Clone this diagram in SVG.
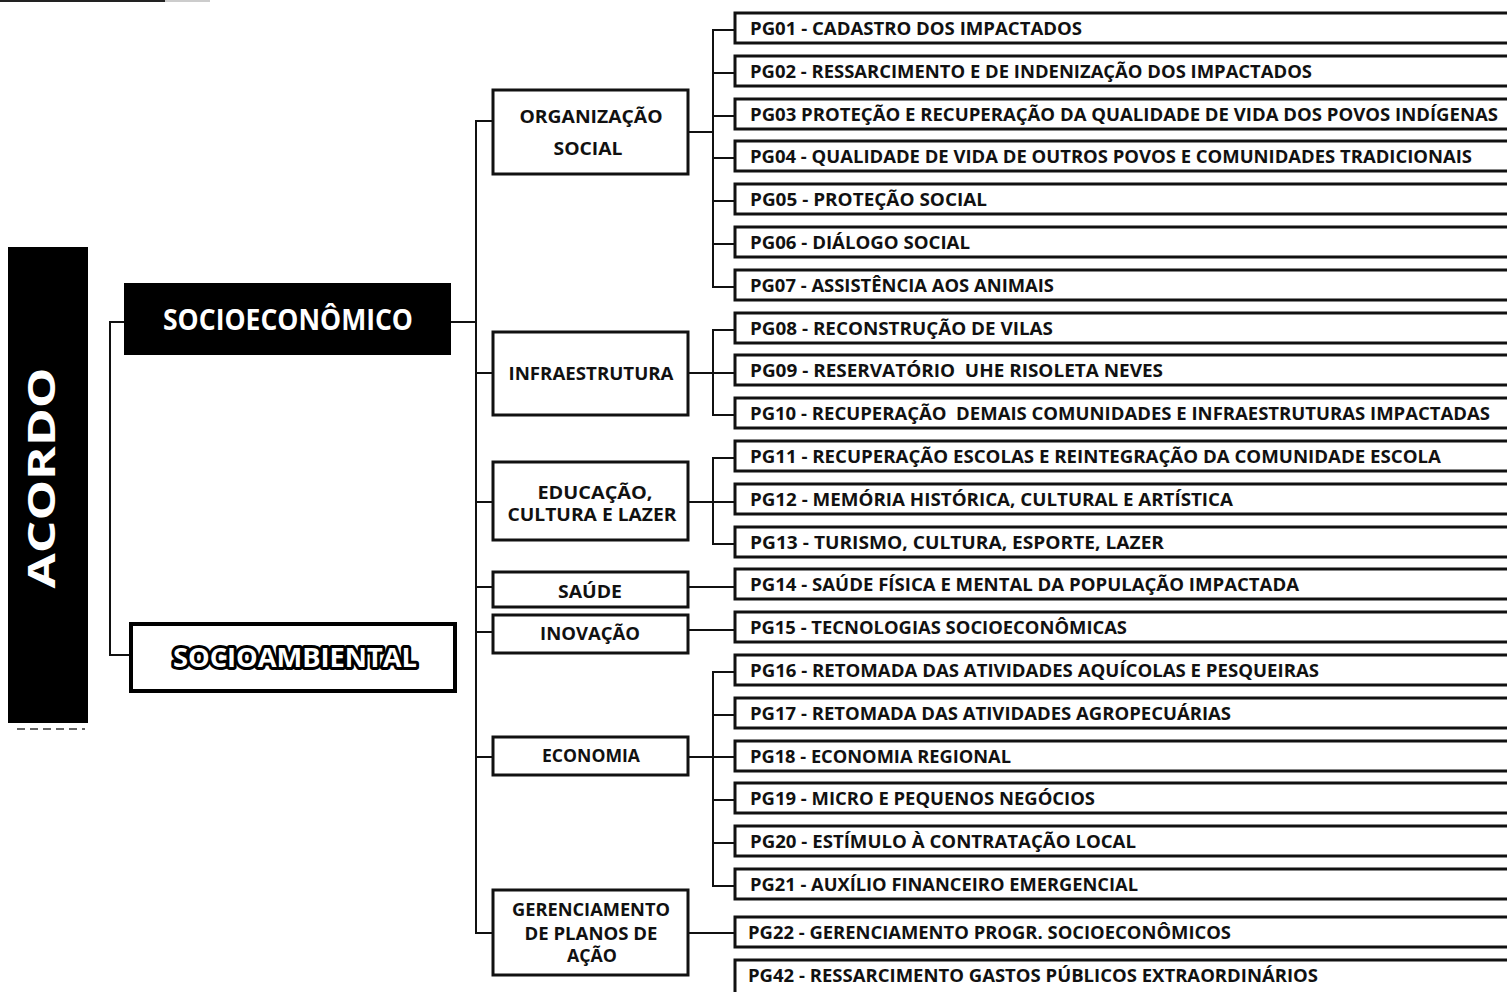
<svg xmlns="http://www.w3.org/2000/svg" width="1507" height="992" viewBox="0 0 1507 992">
<style>
  .t{font-family:"Open Sans","Liberation Sans",sans-serif;font-weight:700;fill:#111;}
  .pg{font-size:18px;}
  .mid{font-size:17.5px;text-anchor:middle;}
  .box{fill:#fff;stroke:#111;stroke-width:3;}
  .pgbox{fill:#fff;stroke:#111;stroke-width:3;}
  .conn{fill:none;stroke:#111;stroke-width:2;}
</style>
<rect x="0" y="0" width="1507" height="992" fill="#fff"/>
<line x1="0" y1="1" x2="165" y2="1" stroke="#222" stroke-width="2"/>
<line x1="165" y1="1" x2="210" y2="1" stroke="#bbb" stroke-width="1.5"/>
<line x1="17" y1="729" x2="85" y2="729" stroke="#333" stroke-width="1.5" stroke-dasharray="8,5"/>

<g id="connectors">
  <path class="conn" d="M124,322 H110 V655 H131"/>
  <path class="conn" d="M451,322 H476"/>
  <path class="conn" d="M493,121 H476 V933 H493 M476,373 H493 M476,502 H493 M476,587 H493 M476,632 H493 M476,757 H493"/>
  <path class="conn" d="M688,132 H713 M735,30 H713 V287 H735 M713,73 H735 M713,116 H735 M713,158 H735 M713,201 H735 M713,244 H735"/>
  <path class="conn" d="M688,373 H735 M735,330 H713 V415 H735"/>
  <path class="conn" d="M688,502 H735 M735,458 H713 V544 H735"/>
  <path class="conn" d="M688,587 H735"/>
  <path class="conn" d="M688,630 H735"/>
  <path class="conn" d="M688,757 H735 M735,672 H713 V886 H735 M713,715 H735 M713,800 H735 M713,843 H735"/>
  <path class="conn" d="M688,933 H735"/>
</g>

<g id="acordo">
  <rect x="8" y="247" width="80" height="476" fill="#000"/>
  <text class="t" transform="translate(55,478) rotate(-90)" text-anchor="middle" font-size="38" fill="#fff" style="fill:#fff" textLength="221" lengthAdjust="spacingAndGlyphs">ACORDO</text>
</g>

<g id="socioeconomico">
  <rect x="124" y="283" width="327" height="72" fill="#000"/>
  <text class="t" x="288" y="330" text-anchor="middle" font-size="28" style="fill:#fff" textLength="250" lengthAdjust="spacingAndGlyphs">SOCIOECONÔMICO</text>
</g>

<g id="socioambiental">
  <rect x="131" y="624" width="324" height="67" fill="#fff" stroke="#000" stroke-width="4"/>
  <text class="t" x="295" y="667" text-anchor="middle" font-size="27" style="fill:#fff;stroke:#000;stroke-width:6;stroke-linejoin:round;paint-order:stroke" textLength="244" lengthAdjust="spacingAndGlyphs">SOCIOAMBIENTAL</text>
</g>

<g id="organizacao-social">
  <rect class="box" x="493" y="90" width="195" height="84"/>
  <text class="t mid" x="591" y="123" textLength="143" lengthAdjust="spacingAndGlyphs">ORGANIZAÇÃO</text>
  <text class="t mid" x="588" y="155" textLength="69" lengthAdjust="spacingAndGlyphs">SOCIAL</text>
</g>
<g id="infraestrutura">
  <rect class="box" x="493" y="332" width="195" height="83"/>
  <text class="t mid" x="591" y="380" textLength="165" lengthAdjust="spacingAndGlyphs">INFRAESTRUTURA</text>
</g>
<g id="educacao">
  <rect class="box" x="493" y="462" width="195" height="78"/>
  <text class="t mid" x="595" y="499" textLength="115" lengthAdjust="spacingAndGlyphs">EDUCAÇÃO,</text>
  <text class="t mid" x="592" y="521" textLength="169" lengthAdjust="spacingAndGlyphs">CULTURA E LAZER</text>
</g>
<g id="saude">
  <rect class="box" x="493" y="572" width="195" height="35"/>
  <text class="t mid" x="590" y="598" textLength="64" lengthAdjust="spacingAndGlyphs">SAÚDE</text>
</g>
<g id="inovacao">
  <rect class="box" x="493" y="615" width="195" height="38"/>
  <text class="t mid" x="590" y="640" textLength="100" lengthAdjust="spacingAndGlyphs">INOVAÇÃO</text>
</g>
<g id="economia">
  <rect class="box" x="493" y="737" width="195" height="38"/>
  <text class="t mid" x="591" y="762" textLength="98" lengthAdjust="spacingAndGlyphs">ECONOMIA</text>
</g>
<g id="gerenciamento">
  <rect class="box" x="493" y="890" width="195" height="85"/>
  <text class="t mid" x="591" y="916" textLength="158" lengthAdjust="spacingAndGlyphs">GERENCIAMENTO</text>
  <text class="t mid" x="591" y="940" textLength="133" lengthAdjust="spacingAndGlyphs">DE PLANOS DE</text>
  <text class="t mid" x="592" y="962" textLength="50" lengthAdjust="spacingAndGlyphs">AÇÃO</text>
</g>

<g id="pg01"><rect class="pgbox" x="735" y="13" width="800" height="30"/><text class="t pg" x="750" y="35" textLength="332" lengthAdjust="spacingAndGlyphs">PG01 - CADASTRO DOS IMPACTADOS</text></g>
<g id="pg02"><rect class="pgbox" x="735" y="56" width="800" height="30"/><text class="t pg" x="750" y="78" textLength="562" lengthAdjust="spacingAndGlyphs">PG02 - RESSARCIMENTO E DE INDENIZAÇÃO DOS IMPACTADOS</text></g>
<g id="pg03"><rect class="pgbox" x="735" y="99" width="800" height="30"/><text class="t pg" x="750" y="121" textLength="748" lengthAdjust="spacingAndGlyphs">PG03 PROTEÇÃO E RECUPERAÇÃO DA QUALIDADE DE VIDA DOS POVOS INDÍGENAS</text></g>
<g id="pg04"><rect class="pgbox" x="735" y="141" width="800" height="30"/><text class="t pg" x="750" y="163" textLength="722" lengthAdjust="spacingAndGlyphs">PG04 - QUALIDADE DE VIDA DE OUTROS POVOS E COMUNIDADES TRADICIONAIS</text></g>
<g id="pg05"><rect class="pgbox" x="735" y="184" width="800" height="30"/><text class="t pg" x="750" y="206" textLength="237" lengthAdjust="spacingAndGlyphs">PG05 - PROTEÇÃO SOCIAL</text></g>
<g id="pg06"><rect class="pgbox" x="735" y="227" width="800" height="30"/><text class="t pg" x="750" y="249" textLength="220" lengthAdjust="spacingAndGlyphs">PG06 - DIÁLOGO SOCIAL</text></g>
<g id="pg07"><rect class="pgbox" x="735" y="270" width="800" height="30"/><text class="t pg" x="750" y="292" textLength="304" lengthAdjust="spacingAndGlyphs">PG07 - ASSISTÊNCIA AOS ANIMAIS</text></g>
<g id="pg08"><rect class="pgbox" x="735" y="313" width="800" height="30"/><text class="t pg" x="750" y="335" textLength="303" lengthAdjust="spacingAndGlyphs">PG08 - RECONSTRUÇÃO DE VILAS</text></g>
<g id="pg09"><rect class="pgbox" x="735" y="355" width="800" height="30"/><text class="t pg" x="750" y="377" textLength="413" lengthAdjust="spacingAndGlyphs" xml:space="preserve">PG09 - RESERVATÓRIO  UHE RISOLETA NEVES</text></g>
<g id="pg10"><rect class="pgbox" x="735" y="398" width="800" height="30"/><text class="t pg" x="750" y="420" textLength="740" lengthAdjust="spacingAndGlyphs" xml:space="preserve">PG10 - RECUPERAÇÃO  DEMAIS COMUNIDADES E INFRAESTRUTURAS IMPACTADAS</text></g>
<g id="pg11"><rect class="pgbox" x="735" y="441" width="800" height="30"/><text class="t pg" x="750" y="463" textLength="691" lengthAdjust="spacingAndGlyphs">PG11 - RECUPERAÇÃO ESCOLAS E REINTEGRAÇÃO DA COMUNIDADE ESCOLA</text></g>
<g id="pg12"><rect class="pgbox" x="735" y="484" width="800" height="30"/><text class="t pg" x="750" y="506" textLength="483" lengthAdjust="spacingAndGlyphs">PG12 - MEMÓRIA HISTÓRICA, CULTURAL E ARTÍSTICA</text></g>
<g id="pg13"><rect class="pgbox" x="735" y="527" width="800" height="30"/><text class="t pg" x="750" y="549" textLength="414" lengthAdjust="spacingAndGlyphs">PG13 - TURISMO, CULTURA, ESPORTE, LAZER</text></g>
<g id="pg14"><rect class="pgbox" x="735" y="569" width="800" height="30"/><text class="t pg" x="750" y="591" textLength="549" lengthAdjust="spacingAndGlyphs">PG14 - SAÚDE FÍSICA E MENTAL DA POPULAÇÃO IMPACTADA</text></g>
<g id="pg15"><rect class="pgbox" x="735" y="612" width="800" height="30"/><text class="t pg" x="750" y="634" textLength="377" lengthAdjust="spacingAndGlyphs">PG15 - TECNOLOGIAS SOCIOECONÔMICAS</text></g>
<g id="pg16"><rect class="pgbox" x="735" y="655" width="800" height="30"/><text class="t pg" x="750" y="677" textLength="569" lengthAdjust="spacingAndGlyphs">PG16 - RETOMADA DAS ATIVIDADES AQUÍCOLAS E PESQUEIRAS</text></g>
<g id="pg17"><rect class="pgbox" x="735" y="698" width="800" height="30"/><text class="t pg" x="750" y="720" textLength="481" lengthAdjust="spacingAndGlyphs">PG17 - RETOMADA DAS ATIVIDADES AGROPECUÁRIAS</text></g>
<g id="pg18"><rect class="pgbox" x="735" y="741" width="800" height="30"/><text class="t pg" x="750" y="763" textLength="261" lengthAdjust="spacingAndGlyphs">PG18 - ECONOMIA REGIONAL</text></g>
<g id="pg19"><rect class="pgbox" x="735" y="783" width="800" height="30"/><text class="t pg" x="750" y="805" textLength="345" lengthAdjust="spacingAndGlyphs">PG19 - MICRO E PEQUENOS NEGÓCIOS</text></g>
<g id="pg20"><rect class="pgbox" x="735" y="826" width="800" height="30"/><text class="t pg" x="750" y="848" textLength="386" lengthAdjust="spacingAndGlyphs">PG20 - ESTÍMULO À CONTRATAÇÃO LOCAL</text></g>
<g id="pg21"><rect class="pgbox" x="735" y="869" width="800" height="30"/><text class="t pg" x="750" y="891" textLength="388" lengthAdjust="spacingAndGlyphs">PG21 - AUXÍLIO FINANCEIRO EMERGENCIAL</text></g>
<g id="pg22"><rect class="pgbox" x="735" y="917" width="800" height="30"/><text class="t pg" x="748" y="939" textLength="483" lengthAdjust="spacingAndGlyphs">PG22 - GERENCIAMENTO PROGR. SOCIOECONÔMICOS</text></g>
<g id="pg42"><rect class="pgbox" x="735" y="960" width="800" height="40"/><text class="t pg" x="748" y="982" textLength="570" lengthAdjust="spacingAndGlyphs">PG42 - RESSARCIMENTO GASTOS PÚBLICOS EXTRAORDINÁRIOS</text></g>
</svg>
